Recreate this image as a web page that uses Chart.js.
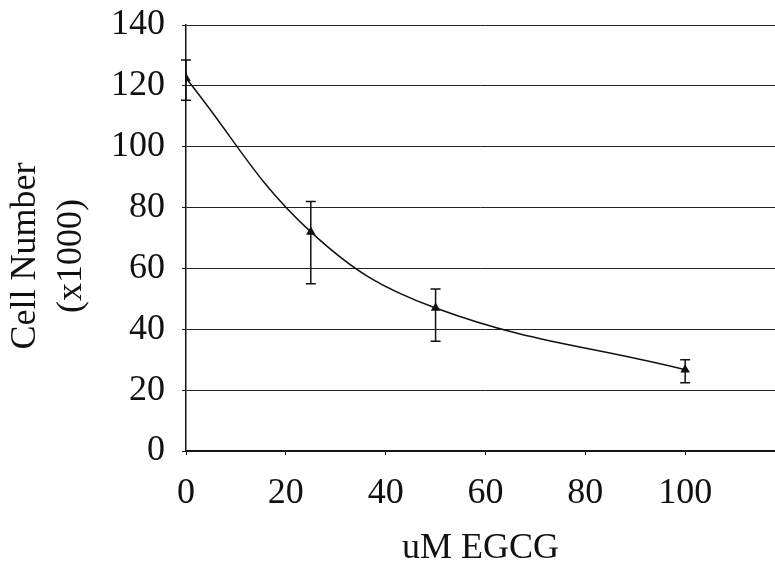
<!DOCTYPE html>
<html>
<head>
<meta charset="utf-8">
<title>Cell Number vs EGCG</title>
<script src="https://cdn.jsdelivr.net/npm/chart.js@4/dist/chart.umd.min.js"></script>
<style>
    html, body { margin: 0; padding: 0; background: #fff; }
    #chart { display: block; }
</style>
</head>
<body>
<canvas id="chart" width="775" height="567"></canvas>
<script>
// values
const doses = [0, 25, 50, 100];                 // uM EGCG
const cellCounts = [122.5, 72, 47, 26.7];        // x1000
const errUpper = [128.5, 82, 53.2, 30];
const errLower = [115.3, 55, 36.1, 22.4];

const xTicks = [0, 20, 40, 60, 80, 100];
const yTitle = ["Cell Number", "(x1000)"];
const xTitle = "uM EGCG";

const FONT = "'Liberation Serif', 'Times New Roman', serif";

// vertical error bars with caps, placed through the chart's own scales
const errorBars = {
    id: 'errorBars',
    afterDatasetsDraw(chart) {
        const { ctx, scales: { x, y } } = chart;
        ctx.save();
        ctx.strokeStyle = '#111';
        ctx.lineWidth = 1.5;
        doses.forEach((d, i) => {
            const px = x.getPixelForValue(d);
            const top = y.getPixelForValue(errUpper[i]);
            const bot = y.getPixelForValue(errLower[i]);
            ctx.beginPath();
            ctx.moveTo(px, top); ctx.lineTo(px, bot);
            ctx.moveTo(px - 5, top); ctx.lineTo(px + 5, top);
            ctx.moveTo(px - 5, bot); ctx.lineTo(px + 5, bot);
            ctx.stroke();
        });
        ctx.restore();
    }
};

// two-line rotated y title, sits a bit below the middle of the plot
const yAxisTitle = {
    id: 'yAxisTitle',
    afterDraw(chart) {
        const { ctx } = chart;
        ctx.save();
        ctx.fillStyle = '#111';
        ctx.font = `36px ${FONT}`;
        ctx.textAlign = 'center';
        ctx.textBaseline = 'middle';
        ctx.translate(0, 256);
        ctx.rotate(-Math.PI / 2);
        ctx.fillText(yTitle[0], 0, 26);
        ctx.fillText(yTitle[1], 0, 72);
        ctx.restore();
    }
};

new Chart(document.getElementById('chart'), {
    type: 'scatter',
    data: {
        datasets: [{
            data: doses.map((d, i) => ({ x: d, y: cellCounts[i] })),
            showLine: true,
            tension: 0.4,
            borderColor: '#111',
            borderWidth: 1.5,
            pointStyle: 'triangle',
            pointRadius: 4,
            pointBackgroundColor: '#111',
            pointBorderColor: '#111'
        }]
    },
    options: {
        responsive: false,
        animation: false,
        layout: { autoPadding: false, padding: { top: 25, right: 0, left: 0, bottom: 0 } },
        plugins: { legend: { display: false }, tooltip: { enabled: false } },
        scales: {
            x: {
                type: 'linear',
                min: 0,
                max: 118,
                afterFit: s => { s.height = 116; s.paddingLeft = 0; s.paddingRight = 0; },
                afterBuildTicks: s => { s.ticks = xTicks.map(v => ({ value: v })); },
                grid: { drawOnChartArea: false, drawTicks: true, tickLength: 4, color: '#111' },
                border: { display: true, color: '#111', width: 1.5 },
                ticks: { color: '#111', padding: 17, maxRotation: 0, font: { family: FONT, size: 36 } },
                title: {
                    display: true,
                    text: xTitle,
                    color: '#111',
                    font: { family: FONT, size: 36, lineHeight: 1 },
                    padding: { top: 0, bottom: 0 }
                }
            },
            y: {
                min: 0,
                max: 140,
                afterFit: s => { s.width = 186; s.paddingTop = 0; s.paddingBottom = 0; },
                ticks: { stepSize: 20, color: '#111', padding: 17, font: { family: FONT, size: 36 } },
                grid: { color: '#222', lineWidth: 1, tickLength: 4 },
                border: { display: true, color: '#111', width: 1.5 }
            }
        }
    },
    plugins: [errorBars, yAxisTitle]
});
</script>
</body>
</html>
